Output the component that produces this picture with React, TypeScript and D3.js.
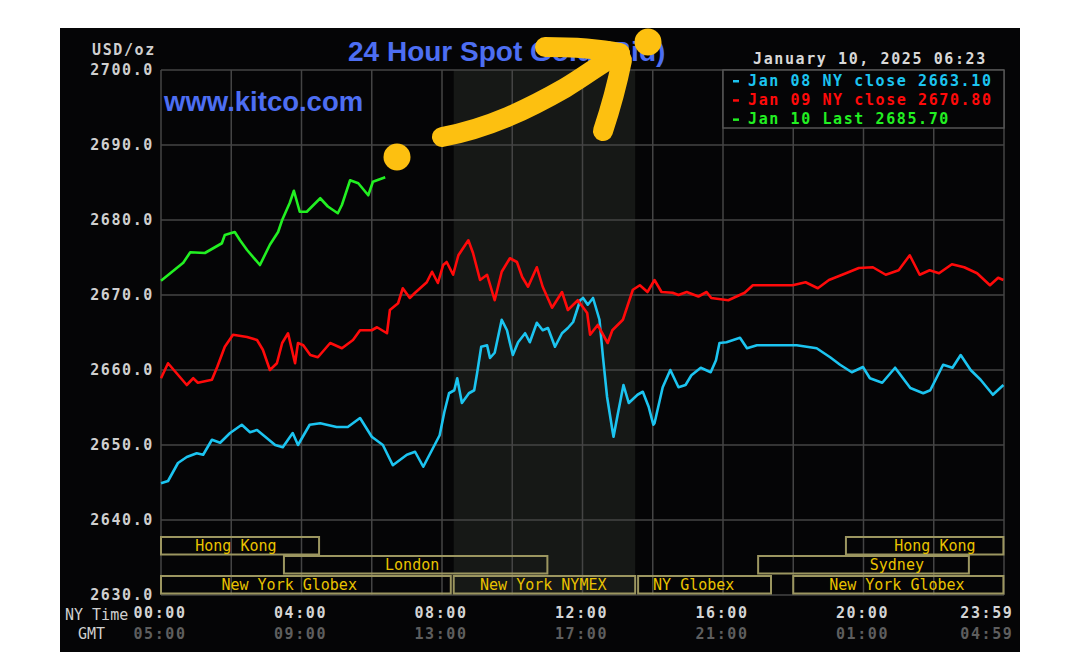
import React from 'react';
import * as d3 from 'd3';

// ---------- data ----------
const priceTicks = [2630, 2640, 2650, 2660, 2670, 2680, 2690, 2700];
const labelMinutes = [0, 240, 480, 720, 960, 1200, 1439];
const nyTimeLabels = ['00:00', '04:00', '08:00', '12:00', '16:00', '20:00', '23:59'];
const gmtLabels = ['05:00', '09:00', '13:00', '17:00', '21:00', '01:00', '04:59'];
const gridMinutes = [0, 120, 240, 360, 480, 600, 720, 840, 960, 1080, 1200, 1320, 1440];

// [minute of NY day, price]
const jan08: [number, number][] = [
  [0, 2644.9], [12, 2645.2], [29, 2647.6], [44, 2648.4], [61, 2648.9], [72, 2648.7], [87, 2650.7],
  [101, 2650.3], [118, 2651.6], [138, 2652.7], [152, 2651.7], [164, 2652.0], [178, 2651.1],
  [195, 2650.0], [208, 2649.7], [225, 2651.6], [234, 2650.0], [254, 2652.7], [272, 2652.9],
  [283, 2652.7], [300, 2652.4], [319, 2652.4], [340, 2653.6], [360, 2651.1], [379, 2650.0],
  [396, 2647.3], [420, 2648.7], [434, 2649.1], [448, 2647.1], [476, 2651.3], [484, 2654.4],
  [492, 2656.9], [501, 2657.3], [506, 2658.9], [514, 2655.6], [526, 2656.9], [535, 2657.3],
  [540, 2659.6], [547, 2663.1], [557, 2663.3], [562, 2661.6], [570, 2662.3], [582, 2666.7],
  [591, 2665.3], [596, 2663.6], [601, 2662.0], [610, 2663.7], [622, 2664.9], [630, 2663.7],
  [642, 2666.3], [652, 2665.3], [661, 2665.6], [673, 2663.1], [685, 2664.9], [695, 2665.6],
  [704, 2666.4], [716, 2669.3], [721, 2669.6], [729, 2668.7], [738, 2669.6], [749, 2666.7],
  [755, 2661.7], [762, 2656.4], [771, 2652.0], [773, 2651.1], [780, 2654.0], [790, 2658.0],
  [799, 2655.6], [814, 2656.7], [823, 2657.1], [833, 2655.1], [841, 2652.7], [843, 2652.9],
  [857, 2657.7], [870, 2660.0], [884, 2657.7], [896, 2658.0], [906, 2659.3], [922, 2660.3],
  [939, 2659.7], [948, 2661.3], [954, 2663.6], [966, 2663.7], [989, 2664.3], [1001, 2662.9],
  [1018, 2663.3], [1086, 2663.3], [1120, 2662.9], [1143, 2661.7], [1160, 2660.7], [1180, 2659.7],
  [1199, 2660.4], [1211, 2658.9], [1232, 2658.3], [1254, 2660.3], [1280, 2657.6], [1302, 2656.9],
  [1314, 2657.3], [1336, 2660.7], [1352, 2660.3], [1366, 2662.0], [1383, 2660.0], [1400, 2658.7],
  [1421, 2656.7], [1439, 2658.0],
];

const jan09: [number, number][] = [
  [0, 2658.9], [12, 2660.9], [44, 2658.0], [55, 2658.9], [63, 2658.3], [87, 2658.7], [96, 2660.4],
  [109, 2663.1], [123, 2664.7], [147, 2664.4], [164, 2664.0], [174, 2662.7], [186, 2660.0],
  [198, 2660.9], [207, 2663.6], [217, 2664.9], [229, 2660.9], [234, 2663.6], [243, 2663.3],
  [255, 2662.0], [268, 2661.7], [289, 2663.6], [309, 2662.9], [328, 2664.0], [340, 2665.3],
  [360, 2665.3], [369, 2665.7], [386, 2664.9], [391, 2668.0], [405, 2668.9], [413, 2670.9],
  [425, 2669.6], [434, 2670.3], [454, 2671.7], [463, 2673.1], [473, 2671.6], [482, 2674.0],
  [488, 2674.4], [499, 2672.7], [508, 2675.3], [525, 2677.3], [533, 2675.6], [545, 2672.0],
  [557, 2672.7], [570, 2669.3], [582, 2673.1], [596, 2674.9], [608, 2674.4], [617, 2672.4],
  [627, 2671.1], [642, 2673.7], [652, 2671.1], [668, 2668.3], [685, 2670.4], [695, 2668.0],
  [712, 2669.3], [728, 2667.6], [733, 2664.7], [746, 2666.0], [763, 2663.6], [771, 2665.3],
  [789, 2666.7], [806, 2670.7], [818, 2671.3], [831, 2670.4], [843, 2672.0], [855, 2670.4],
  [874, 2670.3], [884, 2670.0], [898, 2670.4], [918, 2669.8], [932, 2670.4], [940, 2669.6],
  [969, 2669.3], [997, 2670.3], [1011, 2671.3], [1079, 2671.3], [1101, 2671.7], [1122, 2670.9],
  [1141, 2672.0], [1170, 2672.9], [1192, 2673.6], [1216, 2673.7], [1238, 2672.7], [1260, 2673.3],
  [1279, 2675.3], [1296, 2672.7], [1313, 2673.3], [1329, 2672.9], [1351, 2674.1], [1372, 2673.7],
  [1394, 2672.9], [1416, 2671.3], [1430, 2672.3], [1439, 2672.0],
];

const jan10: [number, number][] = [
  [0, 2671.9], [38, 2674.3], [50, 2675.7], [75, 2675.6], [104, 2676.9], [109, 2678.0],
  [126, 2678.4], [135, 2677.3], [147, 2676.0], [169, 2674.0], [186, 2676.7], [200, 2678.4],
  [207, 2680.0], [220, 2682.3], [227, 2683.9], [237, 2681.1], [249, 2681.1], [272, 2682.9],
  [285, 2681.8], [302, 2680.9], [309, 2682.0], [323, 2685.3], [337, 2684.9], [354, 2683.3],
  [362, 2685.1], [383, 2685.7],
];

const seriesColors = ['#1cc4f0', '#ff0a0a', '#22f022'];
const legendLabels = ['Jan 08 NY close 2663.10', 'Jan 09 NY close 2670.80', 'Jan 10 Last 2685.70'];

// market sessions: start minute, end minute, row, name, label minute
const sessionStarts = [0, 210, 0, 500, 815, 1080, 1020, 1170];
const sessionEnds = [270, 660, 495, 810, 1042, 1439, 1380, 1439];
const sessionRows = [0, 1, 2, 2, 2, 2, 1, 0];
const sessionNames = ['Hong Kong', 'London', 'New York Globex', 'New York NYMEX', 'NY Globex', 'New York Globex', 'Sydney', 'Hong Kong'];
const sessionLabelAt = [128, 429, 219, 653, 910, 1257, 1257, 1322];

const nymexShade = [500, 810];

const MONO = '"DejaVu Sans Mono", monospace';
const SANS = '"Liberation Sans", Arial, sans-serif';

export default function App() {
  const left = 161, right = 1004, top = 70, bottom = 595;
  const x = d3.scaleLinear().domain([0, 1440]).range([left, right]);
  const y = d3.scaleLinear().domain([2630, 2700]).range([bottom, top]);
  const line = d3.line<[number, number]>().x(d => x(d[0])).y(d => y(d[1])).curve(d3.curveLinear);
  const series = [jan08, jan09, jan10];

  const rowTop = [537, 556, 576];
  const rowH = 17.5;

  return (
    <svg width={1080} height={660} style={{ position: 'absolute', left: 0, top: 0, background: '#fff' }}>
      <rect x={60} y={28} width={960} height={624} fill="#050506" />
      {/* NYMEX shade */}
      <rect x={x(nymexShade[0])} y={top} width={x(nymexShade[1]) - x(nymexShade[0])} height={bottom - top} fill="#161816" />
      {/* grid */}
      {priceTicks.map(p => (
        <line key={'h' + p} x1={left} x2={right} y1={y(p)} y2={y(p)} stroke="#444" strokeWidth={1.5} />
      ))}
      {gridMinutes.map(m => (
        <line key={'v' + m} x1={x(m)} x2={x(m)} y1={top} y2={bottom} stroke="#444" strokeWidth={1.5} />
      ))}
      {/* sessions */}
      {sessionNames.map((n, i) => (
        <g key={'s' + i}>
          <rect x={x(sessionStarts[i])} y={rowTop[sessionRows[i]]} width={x(sessionEnds[i]) - x(sessionStarts[i])} height={rowH}
            fill="none" stroke="#9c9660" strokeWidth={2} />
          <text x={x(sessionLabelAt[i])} y={rowTop[sessionRows[i]] + 14} textAnchor="middle" fontFamily={MONO} fontSize={15} fill="#e9c200">{n}</text>
        </g>
      ))}
      {/* lines */}
      {series.map((s, i) => (
        <path key={'l' + i} d={line(s) || ''} fill="none" stroke={seriesColors[i]} strokeWidth={2.6} strokeLinejoin="round" />
      ))}
      {/* legend box */}
      <rect x={723} y={top} width={right - 723} height={58} fill="#050506" stroke="#555" strokeWidth={1.5} />
      {legendLabels.map((l, i) => (
        <g key={'lg' + i}>
          <rect x={733} y={80 + i * 19.2} width={6} height={2.5} fill={seriesColors[i]} />
          <text x={748} y={86 + i * 19.2} fontFamily={MONO} fontWeight="bold" fontSize={15} letterSpacing={1.6} fill={seriesColors[i]}>{l}</text>
        </g>
      ))}
      <text x={753} y={64} fontFamily={MONO} fontWeight="bold" fontSize={15} letterSpacing={1.6} fill="#d8d8d8">January 10, 2025 06:23</text>
      {/* y axis */}
      <text x={92} y={54.5} fontFamily={MONO} fontWeight="bold" fontSize={15} letterSpacing={1.6} fill="#cfcfcf">USD/oz</text>
      {priceTicks.map(p => (
        <text key={'yt' + p} x={154} y={y(p) + 5} textAnchor="end" fontFamily={MONO} fontWeight="bold" fontSize={15} letterSpacing={1.6} fill="#cfcfcf">{p.toFixed(1)}</text>
      ))}
      {/* x axis */}
      <text x={65} y={620} fontFamily={MONO} fontSize={15} fill="#cfcfcf">NY Time</text>
      <text x={78} y={639} fontFamily={MONO} fontSize={15} fill="#cfcfcf">GMT</text>
      {labelMinutes.map((m, i) => {
        const last = i === labelMinutes.length - 1;
        return (
          <g key={'xt' + m}>
            <text x={last ? x(m) + 10 : x(m) - 1} y={618} textAnchor={last ? 'end' : 'middle'} fontFamily={MONO} fontWeight="bold" fontSize={15} letterSpacing={1.6} fill="#d4d4d4">{nyTimeLabels[i]}</text>
            <text x={last ? x(m) + 10 : x(m) - 1} y={639} textAnchor={last ? 'end' : 'middle'} fontFamily={MONO} fontWeight="bold" fontSize={15} letterSpacing={1.6} fill="#5e5e5e">{gmtLabels[i]}</text>
          </g>
        );
      })}
      {/* title and url */}
      <text x={348} y={61} fontFamily={SANS} fontWeight="bold" fontSize={28} fill="#4d6ef2">24 Hour Spot Gold (Bid)</text>
      <text x={164} y={111} fontFamily={SANS} fontWeight="bold" fontSize={27.5} fill="#4d6ef2">www.kitco.com</text>
      {/* yellow hand-drawn annotation */}
      <g stroke="#fdc010" strokeWidth={20} strokeLinecap="round" strokeLinejoin="round" fill="none">
        <path d="M442,137 C490,128 530,108 565,88 C590,73 605,60 620,54" />
        <path d="M545,47 C575,47 600,49 620,53" />
        <path d="M622,60 C617,85 610,110 603,131" />
      </g>
      <circle cx={397} cy={157} r={13.5} fill="#fdc010" />
      <circle cx={648} cy={42} r={13.5} fill="#fdc010" />
    </svg>
  );
}
